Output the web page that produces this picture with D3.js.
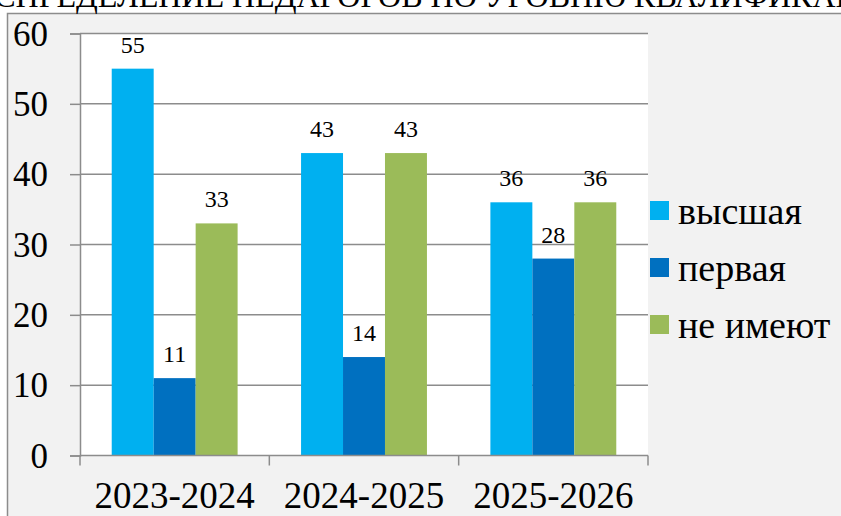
<!DOCTYPE html>
<html>
<head>
<meta charset="utf-8">
<script src="https://cdn.jsdelivr.net/npm/d3@7/dist/d3.min.js"></script>
<style>
  body { margin: 0; background: #fff; overflow: hidden; }
</style>
</head>
<body>
<div id="chart"></div>
<script>
const title = "РАСПРЕДЕЛЕНИЕ ПЕДАГОГОВ ПО УРОВНЮ КВАЛИФИКАЦИИ";
const years = ["2023-2024", "2024-2025", "2025-2026"];
const seriesNames = ["высшая", "первая", "не имеют"];
const vysshaya = [55, 43, 36];
const pervaya = [11, 14, 28];
const neImeyut = [33, 43, 36];
const yTicks = [0, 10, 20, 30, 40, 50, 60];
const colors = ["#00b0f0", "#0070c0", "#9bbb59"];

const series = [vysshaya, pervaya, neImeyut];
const FONT = "'Liberation Serif', 'Times New Roman', serif";

const svg = d3.select("#chart")
  .append("svg")
  .attr("width", 841)
  .attr("height", 516)
  .style("font-family", FONT);

// chart frame (extends past the window on the right and bottom)
svg.append("rect")
  .attr("x", 7.5)
  .attr("y", 13.5)
  .attr("width", 900)
  .attr("height", 600)
  .attr("fill", "#f2f2f2")
  .attr("stroke", "#8c8c8c")
  .attr("stroke-width", 1.5);

// title, cut off at the top of the picture
svg.append("text")
  .attr("x", -41)
  .attr("y", 7)
  .style("font-family", FONT)
  .style("font-size", "32px")
  .text(title);

const plotL = 80, plotR = 648, plotT = 33.5, plotB = 455.5;

const x = d3.scaleBand()
  .domain(years)
  .range([plotL, plotR])
  .paddingInner(0)
  .paddingOuter(0);

const xInner = d3.scaleBand()
  .domain(d3.range(series.length))
  .range([0, x.bandwidth()])
  .paddingOuter(0.5 * 63.5 / 42)
  .paddingInner(0);

const y = d3.scaleLinear()
  .domain([0, 60])
  .range([plotB, plotT]);

svg.append("rect")
  .attr("x", plotL)
  .attr("y", plotT)
  .attr("width", plotR - plotL)
  .attr("height", plotB - plotT)
  .attr("fill", "#fff");

// gridlines
svg.append("g")
  .selectAll("line")
  .data(yTicks.filter(d => d > 0))
  .enter().append("line")
  .attr("x1", plotL)
  .attr("x2", plotR)
  .attr("y1", d => y(d))
  .attr("y2", d => y(d))
  .attr("stroke", "#8c8c8c")
  .attr("stroke-width", 1.5);

// bars
const groups = svg.append("g").selectAll("g")
  .data(years)
  .enter().append("g")
  .attr("transform", d => `translate(${x(d)},0)`);

groups.selectAll("rect")
  .data((d, i) => series.map((s, k) => ({ k: k, v: s[i] })))
  .enter().append("rect")
  .attr("x", d => xInner(d.k))
  .attr("y", d => y(d.v))
  .attr("width", xInner.bandwidth())
  .attr("height", d => plotB - y(d.v))
  .attr("fill", d => colors[d.k]);

groups.selectAll("text")
  .data((d, i) => series.map((s, k) => ({ k: k, v: s[i] })))
  .enter().append("text")
  .attr("x", d => xInner(d.k) + xInner.bandwidth() / 2)
  .attr("y", d => y(d.v) - 16)
  .attr("text-anchor", "middle")
  .style("font-family", FONT)
  .style("font-size", "24px")
  .text(d => d.v);

// y axis
const yAxis = svg.append("g")
  .attr("transform", `translate(${plotL},0)`)
  .call(d3.axisLeft(y).tickValues(yTicks).tickSize(10).tickPadding(22));
yAxis.attr("font-family", null);
yAxis.selectAll("line, path").attr("stroke", "#8c8c8c").attr("stroke-width", 1.5);
yAxis.selectAll("text")
  .attr("fill", "#000")
  .style("font-size", "35px")
  .style("font-family", FONT)
  .attr("dy", "0.33em");

// x axis
const xAxis = svg.append("g")
  .attr("transform", `translate(0,${plotB})`)
  .call(d3.axisBottom(x).tickSize(0).tickPadding(0));
xAxis.attr("font-family", null);
xAxis.select("path").remove();
xAxis.selectAll("line").remove();
xAxis.selectAll("text")
  .attr("fill", "#000")
  .style("font-size", "37px")
  .style("font-family", FONT)
  .attr("y", 52)
  .attr("dy", 0);

svg.append("line")
  .attr("x1", plotL).attr("x2", plotR)
  .attr("y1", plotB).attr("y2", plotB)
  .attr("stroke", "#8c8c8c").attr("stroke-width", 1.5);

svg.append("g").selectAll("line")
  .data(d3.range(years.length + 1))
  .enter().append("line")
  .attr("x1", i => plotL + i * x.step())
  .attr("x2", i => plotL + i * x.step())
  .attr("y1", plotB)
  .attr("y2", plotB + 10)
  .attr("stroke", "#8c8c8c")
  .attr("stroke-width", 1.5);

// legend
const legend = svg.append("g").selectAll("g")
  .data(seriesNames)
  .enter().append("g")
  .attr("transform", (d, i) => `translate(650,${201 + i * 57})`);

legend.append("rect")
  .attr("width", 19)
  .attr("height", 19)
  .attr("fill", (d, i) => colors[i]);

legend.append("text")
  .attr("x", 28)
  .attr("y", 23)
  .style("font-family", FONT)
  .style("font-size", "38px")
  .text(d => d);
</script>
</body>
</html>
